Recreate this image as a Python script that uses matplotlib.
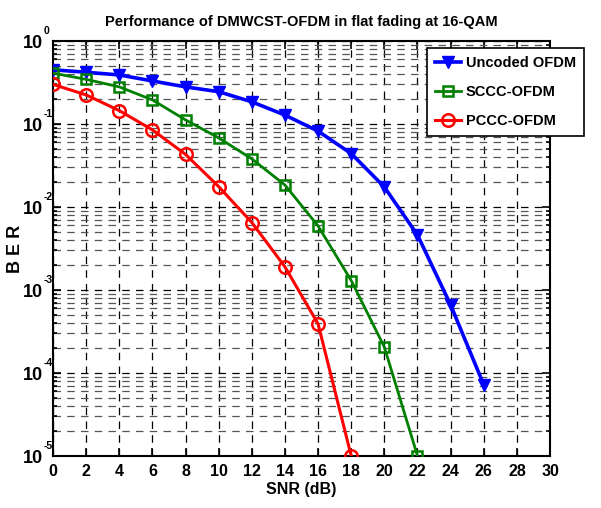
import math
import matplotlib
matplotlib.use("Agg")
import matplotlib.pyplot as plt
import matplotlib.transforms as mtransforms
from matplotlib.ticker import FixedLocator, LogLocator, NullFormatter

fam = "Liberation Sans"
plt.rcParams['font.family'] = [fam, 'DejaVu Sans']

snr_unc = [0, 2, 4, 6, 8, 10, 12, 14, 16, 18, 20, 22, 24, 26]
ber_unc = [0.45, 0.42, 0.39, 0.33, 0.28, 0.245, 0.185, 0.128, 0.082, 0.044, 0.0174, 0.0046, 6.6e-4, 7.2e-5]
snr_sccc = [0, 2, 4, 6, 8, 10, 12, 14, 16, 18, 20, 22]
ber_sccc = [0.41, 0.345, 0.28, 0.195, 0.112, 0.068, 0.038, 0.0184, 0.0059, 0.0013, 2.05e-4, 1e-5]
snr_pccc = [0, 2, 4, 6, 8, 10, 12, 14, 16, 18]
ber_pccc = [0.30, 0.224, 0.145, 0.085, 0.043, 0.0176, 0.0065, 0.0019, 3.9e-4, 1e-5]
labels = ["Uncoded OFDM", "SCCC-OFDM", "PCCC-OFDM"]
x_ticks = list(range(0, 31, 2))
y_exps = [0, -1, -2, -3, -4, -5]

fig = plt.figure(figsize=(6.01, 5.08), dpi=100)
ax = fig.add_axes([0.0882, 0.1024, 0.8270, 0.8169])

ax.semilogy(snr_unc, ber_unc, color='#0000ff', lw=2.6, marker='v', ms=9,
            mfc='#0000ff', mec='#0000ff', label=labels[0], zorder=5)
ax.semilogy(snr_sccc, ber_sccc, color='#008000', lw=2.0, marker='s', ms=7,
            mfc='none', mec='#008000', mew=1.8, label=labels[1], zorder=5)
ax.semilogy(snr_pccc, ber_pccc, color='#ff0000', lw=2.2, marker='o', ms=9,
            mfc='none', mec='#ff0000', mew=1.8, label=labels[2], zorder=5)

ax.set_xlim(0, 30)
ax.set_ylim(1e-5, 1)
ax.xaxis.set_major_locator(FixedLocator(x_ticks))
ax.set_xticklabels([str(t) for t in x_ticks])
ax.yaxis.set_major_locator(FixedLocator([10.0 ** e for e in y_exps]))
ax.yaxis.set_minor_locator(LogLocator(base=10, subs=range(2, 10), numticks=20))
ax.yaxis.set_minor_formatter(NullFormatter())
ax.yaxis.set_major_formatter(NullFormatter())

# y tick labels drawn as base + superscript exponent
trans = mtransforms.blended_transform_factory(ax.transAxes, ax.transData)
for e in y_exps:
    base_tr = mtransforms.offset_copy(trans, fig=fig, x=-7, y=-1.5, units='points')
    ax.text(0, 10.0 ** e, "10", transform=base_tr, ha='right', va='center',
            fontsize=13, fontweight='bold', clip_on=False)
    exp_tr = mtransforms.offset_copy(trans, fig=fig, x=-6.5, y=3.5, units='points')
    ax.text(0, 10.0 ** e, str(e), transform=exp_tr, ha='left', va='bottom',
            fontsize=7.5, fontweight='bold', clip_on=False)

ax.grid(True, which='major', axis='both', color='black', ls=(0, (6, 5)), lw=0.9)
ax.grid(True, which='minor', axis='y', color='#555555', ls=(0, (6, 5)), lw=0.9)
ax.tick_params(which='both', direction='in', top=True, right=True, labelsize=11.5, width=1.2)
ax.tick_params(which='major', length=6)
ax.tick_params(axis='x', which='major', pad=6)
ax.tick_params(which='minor', length=3)
for lab in ax.get_xticklabels():
    lab.set_fontweight('bold')
for s in ax.spines.values():
    s.set_linewidth(1.5)

ax.set_title("Performance of DMWCST-OFDM in flat fading at 16-QAM", fontsize=10.5, fontweight='bold', pad=11)
ax.set_xlabel("SNR (dB)", fontsize=11.5, fontweight='bold', labelpad=2)
ax.set_ylabel("B E R", fontsize=13, fontweight='bold')
ax.yaxis.set_label_coords(-0.058, 0.5)

leg = ax.legend(loc='upper right', bbox_to_anchor=(1.068, 0.982), prop={'weight': 'bold', 'size': 10.5},
                frameon=True, fancybox=False, edgecolor='black', framealpha=1, handlelength=1.8,
                borderpad=0.55, labelspacing=1.0, handletextpad=0.3, borderaxespad=0)
leg.get_frame().set_linewidth(1.2)
leg.set_zorder(10)

fig.savefig("out.png", dpi=100)
